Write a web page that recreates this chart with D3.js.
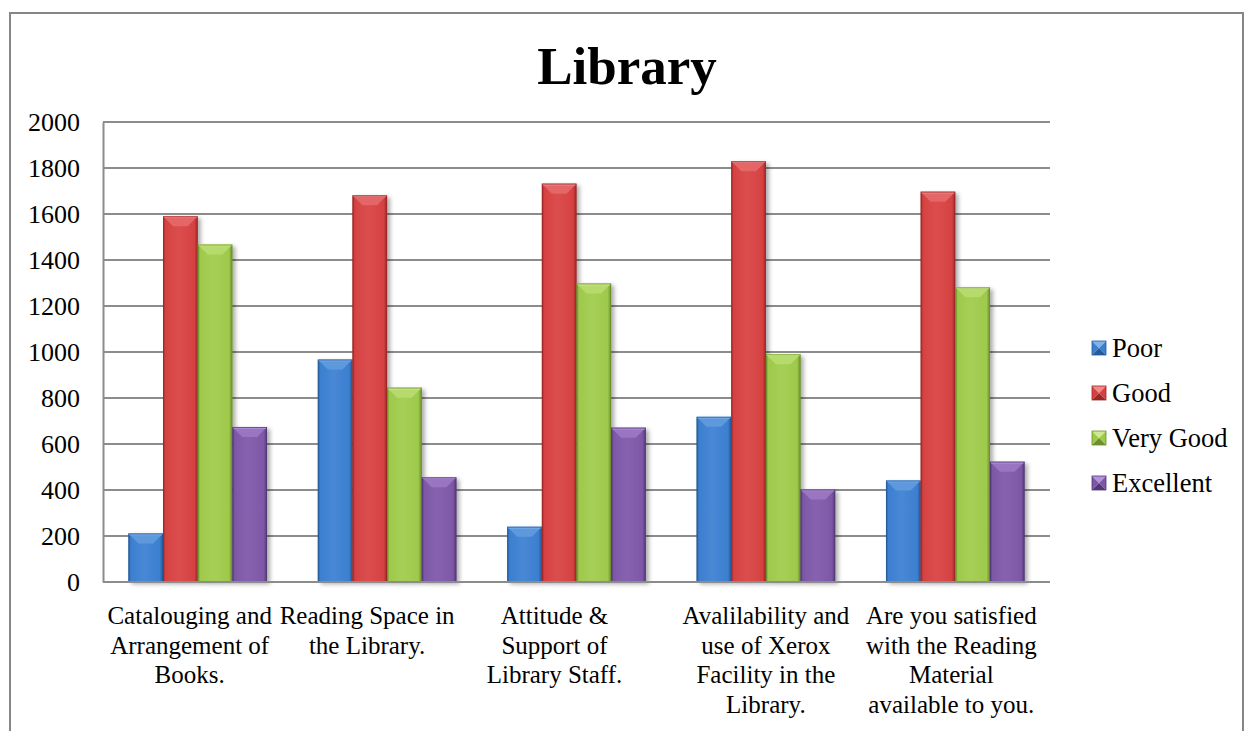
<!DOCTYPE html>
<html>
<head>
<meta charset="utf-8">
<script src="https://cdn.jsdelivr.net/npm/d3@7"></script>
<style>
  html, body { margin: 0; padding: 0; background: #ffffff; }
  svg { display: block; }
  text { font-family: "Liberation Serif", "Times New Roman", serif; fill: #000; }
</style>
</head>
<body>
<svg id="chart" width="1245" height="731"></svg>
<script>
// Survey categories and their wrapped axis labels
const categories = [
  "Catalouging and Arrangement of Books.",
  "Reading Space in the Library.",
  "Attitude & Support of Library Staff.",
  "Avalilability and use of Xerox Facility in the Library.",
  "Are you satisfied with the Reading Material available to you."
];
const categoryLines = [
  ["Catalouging and", "Arrangement of", "Books."],
  ["Reading Space in", "the Library."],
  ["Attitude &", "Support of", "Library Staff."],
  ["Avalilability and", "use of Xerox", "Facility in the", "Library."],
  ["Are you satisfied", "with the Reading", "Material", "available to you."]
];

// Response counts per rating
const seriesNames = ["Poor", "Good", "Very Good", "Excellent"];
const poor      = [211, 967, 240, 718, 441];
const good      = [1590, 1681, 1732, 1829, 1697];
const veryGood  = [1467, 845, 1298, 990, 1281];
const excellent = [674, 455, 671, 402, 523];

const yTicks = [0, 200, 400, 600, 800, 1000, 1200, 1400, 1600, 1800, 2000];

const seriesValues = [poor, good, veryGood, excellent];
const seriesColors = {
  "Poor":      { base: "#3c7fd0", light: "#7fb2ec", dark: "#275a98" },
  "Good":      { base: "#d64141", light: "#f28a8a", dark: "#9b2727" },
  "Very Good": { base: "#9ec94b", light: "#cdeb8c", dark: "#6b8f2c" },
  "Excellent": { base: "#7d58a6", light: "#b592de", dark: "#523878" }
};

// Horizontal nudges of the wrapped category labels, in px
const labelNudge = [-8, -20, -22, 0, -4];

const svg = d3.select("#chart");
const plot = { left: 103, right: 1050, top: 122, bottom: 582 };

// Outer chart border
svg.append("rect")
  .attr("x", 10).attr("y", 13)
  .attr("width", 1233).attr("height", 740)
  .attr("fill", "#fff")
  .attr("stroke", "#868686").attr("stroke-width", 2);

const defs = svg.append("defs");

const shadow = defs.append("filter").attr("id", "barShadow")
  .attr("x", "-20%").attr("y", "-10%").attr("width", "150%").attr("height", "130%");
shadow.append("feDropShadow")
  .attr("dx", 3).attr("dy", 2).attr("stdDeviation", 2.2)
  .attr("flood-color", "#000").attr("flood-opacity", 0.33);

seriesNames.forEach((name, i) => {
  const c = seriesColors[name];
  const g = defs.append("linearGradient").attr("id", "grad" + i)
    .attr("x1", "0").attr("x2", "1").attr("y1", "0").attr("y2", "0");
  g.append("stop").attr("offset", "0").attr("stop-color", c.dark);
  g.append("stop").attr("offset", "0.07").attr("stop-color", c.base);
  g.append("stop").attr("offset", "0.45").attr("stop-color", d3.interpolateRgb(c.base, c.light)(0.18));
  g.append("stop").attr("offset", "0.9").attr("stop-color", c.base);
  g.append("stop").attr("offset", "1").attr("stop-color", c.dark);
});

// Scales
const x0 = d3.scaleBand()
  .domain(categories)
  .range([plot.left, plot.right])
  .paddingInner(0.268)
  .paddingOuter(0.134);

const x1 = d3.scaleBand()
  .domain(seriesNames)
  .range([0, x0.bandwidth()]);

const y = d3.scaleLinear()
  .domain([0, 2000])
  .range([plot.bottom, plot.top]);

// Horizontal gridlines
svg.append("g")
  .selectAll("line")
  .data(yTicks.filter(t => t > 0))
  .join("line")
  .attr("x1", plot.left).attr("x2", plot.right)
  .attr("y1", d => y(d)).attr("y2", d => y(d))
  .attr("stroke", "#8c8c8c").attr("stroke-width", 2);

// Y axis
const yAxis = svg.append("g")
  .attr("transform", `translate(${plot.left},0)`)
  .call(d3.axisLeft(y).tickValues(yTicks).tickFormat(d3.format("d")).tickSize(0).tickPadding(23));
yAxis.select(".domain").attr("stroke", "#8c8c8c").attr("stroke-width", 2);
yAxis.selectAll("text")
  .style("font-family", '"Liberation Serif", "Times New Roman", serif')
  .style("font-size", "26px")
  .attr("fill", "#000");

// Bars
const bevel = 10;
const groups = svg.append("g")
  .selectAll("g")
  .data(categories)
  .join("g")
  .attr("transform", d => `translate(${x0(d)},0)`);

const barData = (cat, ci) => seriesNames.map((s, si) => ({ series: s, si, value: seriesValues[si][ci] }));

const bars = groups.selectAll("g.bar")
  .data((d, ci) => barData(d, ci))
  .join("g")
  .attr("class", "bar");

bars.append("rect")
  .attr("x", d => x1(d.series))
  .attr("y", d => y(d.value))
  .attr("width", x1.bandwidth())
  .attr("height", d => y(0) - y(d.value))
  .attr("fill", d => `url(#grad${d.si})`)
  .attr("filter", "url(#barShadow)");

// Bevelled top facet
bars.append("path")
  .attr("d", d => {
    const xl = x1(d.series), xr = xl + x1.bandwidth(), yt = y(d.value);
    return `M${xl},${yt}L${xr},${yt}L${xr - bevel},${yt + bevel}L${xl + bevel},${yt + bevel}Z`;
  })
  .attr("fill", d => d3.interpolateRgb(seriesColors[d.series].base, seriesColors[d.series].light)(0.5));

// Highlight along the very top edge
bars.append("line")
  .attr("x1", d => x1(d.series) + 1)
  .attr("x2", d => x1(d.series) + x1.bandwidth() - 1)
  .attr("y1", d => y(d.value) + 1)
  .attr("y2", d => y(d.value) + 1)
  .attr("stroke", d => seriesColors[d.series].light)
  .attr("stroke-width", 1.5);

// Thin outline
bars.append("rect")
  .attr("x", d => x1(d.series) + 0.5)
  .attr("y", d => y(d.value) + 0.5)
  .attr("width", x1.bandwidth() - 1)
  .attr("height", d => y(0) - y(d.value) - 1)
  .attr("fill", "none")
  .attr("stroke", d => seriesColors[d.series].dark)
  .attr("stroke-width", 1)
  .attr("opacity", 0.7);

// X axis baseline
svg.append("line")
  .attr("x1", plot.left).attr("x2", plot.right)
  .attr("y1", y(0)).attr("y2", y(0))
  .attr("stroke", "#8c8c8c").attr("stroke-width", 2);

// Category labels
const labels = svg.append("g")
  .selectAll("text")
  .data(categories)
  .join("text")
  .attr("text-anchor", "middle")
  .style("font-size", "25px")
  .attr("transform", (d, i) => `translate(${x0(d) + x0.bandwidth() / 2 + labelNudge[i]},624)`);
labels.selectAll("tspan")
  .data((d, i) => categoryLines[i])
  .join("tspan")
  .attr("x", 0)
  .attr("y", (d, i) => i * 29.7)
  .text(d => d);

// Title
svg.append("text")
  .attr("x", 627).attr("y", 84)
  .attr("text-anchor", "middle")
  .style("font-size", "53px")
  .style("font-weight", "bold")
  .text("Library");

// Legend
const legend = svg.append("g")
  .selectAll("g")
  .data(seriesNames)
  .join("g")
  .attr("transform", (d, i) => `translate(1092,${348 + i * 45})`);

const sq = 14;
legend.each(function (d) {
  const c = seriesColors[d];
  const g = d3.select(this);
  const h = sq / 2;
  const facets = [
    { pts: [[0, -h], [sq, -h], [h, 0]], fill: c.light },
    { pts: [[0, -h], [h, 0], [0, h]], fill: c.base },
    { pts: [[sq, -h], [h, 0], [sq, h]], fill: c.base },
    { pts: [[0, h], [h, 0], [sq, h]], fill: c.dark }
  ];
  g.selectAll("path").data(facets).join("path")
    .attr("d", f => "M" + f.pts.map(p => p.join(",")).join("L") + "Z")
    .attr("fill", f => f.fill);
  g.append("rect").attr("x", 0).attr("y", -h).attr("width", sq).attr("height", sq)
    .attr("fill", "none").attr("stroke", c.dark).attr("stroke-width", 0.8);
});

legend.append("text")
  .attr("x", 20)
  .attr("y", 9)
  .style("font-size", "26.5px")
  .text(d => d);
</script>
</body>
</html>
